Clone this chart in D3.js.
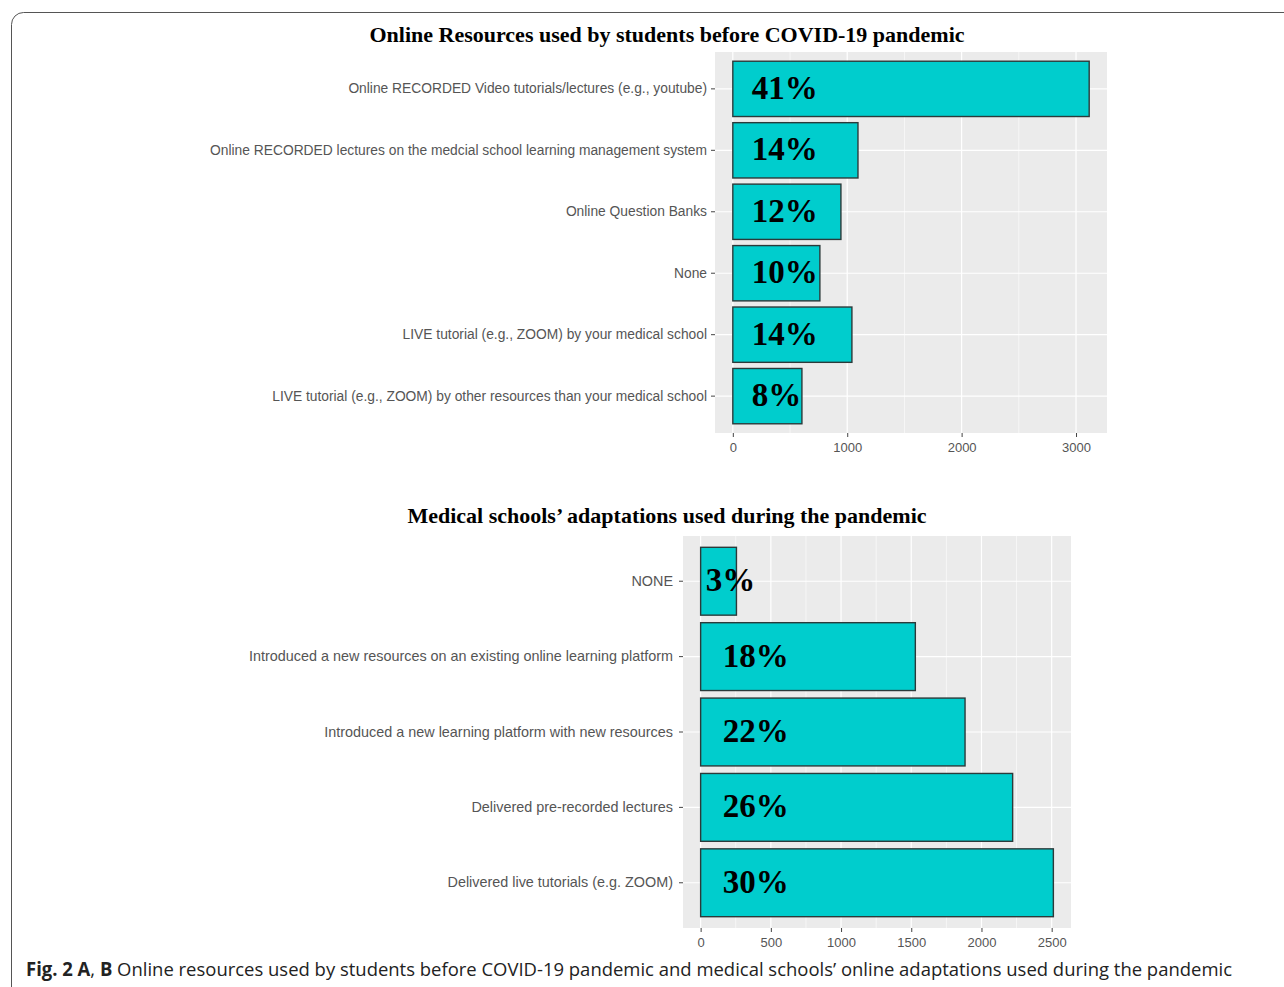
<!DOCTYPE html>
<html>
<head>
<meta charset="utf-8">
<script src="https://cdn.jsdelivr.net/npm/d3@7"></script>
<style>
  body { margin: 0; background: #fff; }
  svg { display: block; }
</style>
</head>
<body>
<div id="d3-container"></div>
<script>
// chart A
const topTitle = "Online Resources used by students before COVID-19 pandemic";
const topCategories = [
  "Online RECORDED Video tutorials/lectures (e.g., youtube)",
  "Online RECORDED lectures on the medcial school learning management system",
  "Online Question Banks",
  "None",
  "LIVE tutorial (e.g., ZOOM) by your medical school",
  "LIVE tutorial (e.g., ZOOM) by other resources than your medical school"
];
const topCounts = [3115, 1094, 945, 761, 1041, 604];
const topPercents = ["41%", "14%", "12%", "10%", "14%", "8%"];
const topTicks = [0, 1000, 2000, 3000];

// chart B
const botTitle = "Medical schools\u2019 adaptations used during the pandemic";
const botCategories = [
  "NONE",
  "Introduced a new resources on an existing online learning platform",
  "Introduced a new learning platform with new resources",
  "Delivered pre-recorded lectures",
  "Delivered live tutorials (e.g. ZOOM)"
];
const botCounts = [255, 1529, 1883, 2222, 2512];
const botPercents = ["3%", "18%", "22%", "26%", "30%"];
const botTicks = [0, 500, 1000, 1500, 2000, 2500];

const width = 1284, height = 987;

const svg = d3.select('#d3-container')
  .append('svg')
  .attr('width', width)
  .attr('height', height);

// figure frame
svg.append('rect')
  .attr('x', 11.5).attr('y', 12.5)
  .attr('width', 1300).attr('height', 1000)
  .attr('rx', 12)
  .attr('fill', 'none')
  .attr('stroke', '#555')
  .attr('stroke-width', 1);

function drawChart(opts) {
  const { cats, counts, pcts, ticks, title, box, titleY, labelSize, labelPad, pctOffset } = opts;
  const max = d3.max(counts);

  const x = d3.scaleLinear()
    .domain([-0.05 * max, max * 1.05])
    .range([box.left, box.right]);

  const y = d3.scaleBand()
    .domain(cats)
    .range([box.top, box.bottom])
    .paddingInner(0.1)
    .paddingOuter(0.15);

  const g = svg.append('g');

  // panel
  g.append('rect')
    .attr('x', box.left).attr('y', box.top)
    .attr('width', box.right - box.left)
    .attr('height', box.bottom - box.top)
    .attr('fill', '#EBEBEB');

  // minor grid
  const minor = d3.range(ticks.length - 1).map(i => (ticks[i] + ticks[i + 1]) / 2);
  const step = ticks[1] - ticks[0];
  minor.push(ticks[ticks.length - 1] + step / 2);
  g.append('g')
    .selectAll('line')
    .data(minor.filter(v => x(v) < box.right))
    .join('line')
    .attr('x1', d => x(d)).attr('x2', d => x(d))
    .attr('y1', box.top).attr('y2', box.bottom)
    .attr('stroke', '#fff').attr('stroke-width', 0.6);

  // major grid
  g.append('g')
    .selectAll('line')
    .data(ticks)
    .join('line')
    .attr('x1', d => x(d)).attr('x2', d => x(d))
    .attr('y1', box.top).attr('y2', box.bottom)
    .attr('stroke', '#fff').attr('stroke-width', 1.2);

  g.append('g')
    .selectAll('line')
    .data(cats)
    .join('line')
    .attr('x1', box.left).attr('x2', box.right)
    .attr('y1', d => y(d) + y.bandwidth() / 2)
    .attr('y2', d => y(d) + y.bandwidth() / 2)
    .attr('stroke', '#fff').attr('stroke-width', 1.2);

  // bars
  g.append('g')
    .selectAll('rect')
    .data(counts)
    .join('rect')
    .attr('x', x(0))
    .attr('y', (d, i) => y(cats[i]))
    .attr('width', d => x(d) - x(0))
    .attr('height', y.bandwidth())
    .attr('fill', '#00CDCD')
    .attr('stroke', '#2b3a3a')
    .attr('stroke-width', 1.4);

  // percentage labels (narrow bars get the label pushed to the left edge)
  g.append('g')
    .selectAll('text')
    .data(pcts)
    .join('text')
    .attr('x', (d, i) => x(0) + (x(counts[i]) - x(0) < 50 ? 5 : pctOffset))
    .attr('y', (d, i) => y(cats[i]) + y.bandwidth() / 2)
    .attr('dy', '0.3em')
    .attr('font-family', '"Liberation Serif", "Times New Roman", serif')
    .attr('font-weight', 'bold')
    .attr('font-size', 33)
    .attr('fill', '#000')
    .text(d => d);

  // y axis
  const yAxis = g.append('g')
    .attr('transform', `translate(${box.left}, 0)`)
    .call(d3.axisLeft(y).tickSize(4).tickPadding(labelPad));
  yAxis.select('.domain').remove();
  yAxis.selectAll('line').attr('stroke', '#444');
  yAxis.selectAll('text')
    .attr('fill', '#555')
    .attr('font-family', '"Liberation Sans", Arial, sans-serif')
    .attr('font-size', labelSize);

  // x axis
  const xAxis = g.append('g')
    .attr('transform', `translate(0, ${box.bottom})`)
    .call(d3.axisBottom(x).tickValues(ticks).tickFormat(d3.format('d')).tickSize(4).tickPadding(6));
  xAxis.select('.domain').remove();
  xAxis.selectAll('line').attr('stroke', '#444');
  xAxis.selectAll('text')
    .attr('fill', '#555')
    .attr('font-family', '"Liberation Sans", Arial, sans-serif')
    .attr('font-size', 13);

  // title
  g.append('text')
    .attr('x', 667).attr('y', titleY)
    .attr('text-anchor', 'middle')
    .attr('font-family', '"Liberation Serif", "Times New Roman", serif')
    .attr('font-weight', 'bold')
    .attr('font-size', 22)
    .text(title);
}

drawChart({
  cats: topCategories, counts: topCounts, pcts: topPercents, ticks: topTicks,
  title: topTitle, titleY: 42,
  box: { left: 715, right: 1107, top: 52, bottom: 433 },
  labelSize: 13.8, labelPad: 4, pctOffset: 19
});

drawChart({
  cats: botCategories, counts: botCounts, pcts: botPercents, ticks: botTicks,
  title: botTitle, titleY: 523,
  box: { left: 683, right: 1071, top: 536, bottom: 928 },
  labelSize: 14.4, labelPad: 6, pctOffset: 22
});

// caption
const cap = svg.append('text')
  .attr('x', 26).attr('y', 976)
  .attr('font-family', '"Open Sans", "Noto Sans", sans-serif')
  .attr('font-size', 19)
  .attr('fill', '#222')
  .attr('textLength', 1206)
  .attr('lengthAdjust', 'spacingAndGlyphs');
cap.append('tspan').attr('font-weight', 'bold').text('Fig. 2  A');
cap.append('tspan').text(', ');
cap.append('tspan').attr('font-weight', 'bold').text('B');
cap.append('tspan').text(' Online resources used by students before COVID-19 pandemic and medical schools\u2019 online adaptations used during the pandemic');
</script>
</body>
</html>
